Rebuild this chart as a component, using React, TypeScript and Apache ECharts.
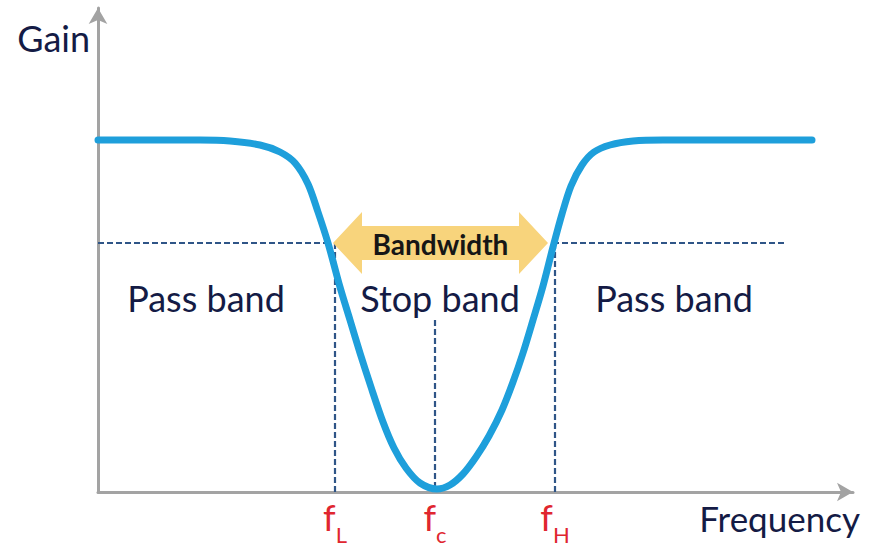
import React, { useEffect, useRef } from "react";
import * as echarts from "echarts";

// Gain response (x: frequency units, y: gain units)
const curveX = [0, 102, 132, 162, 182, 197, 210, 220, 230, 242, 252, 262, 273, 285, 296, 308, 322, 339, 352, 365, 378, 391, 404, 415, 425, 435, 445, 455, 464, 473, 484, 496, 512, 535, 565, 714];
const curveY = [352, 352, 351, 347, 340, 329, 308, 280, 249, 205, 172, 139, 105, 70, 44, 24, 9, 3, 7, 18, 35, 56, 82, 110, 139, 172, 206, 245, 278, 306, 327, 340, 347, 351, 352, 352];

// cutoff markers
const markerSub = ["L", "c", "H"];
const markerX = [237, 337, 457];
const markerTopY = [249, 172, 249];
const halfPowerY = 249;
const dashLeftEnd = 232;
const dashRightStart = 455;
const dashRightEnd = 687;

// bandwidth arrow
const bandwidthFrom = 235;
const bandwidthTo = 450;

// region labels
const bandLabels = ["Pass band", "Stop band", "Pass band"];
const bandLabelX = [108, 342, 576];
const bandLabelY = [194, 194, 194];

const NAVY = "#141b45";
const RED = "#e0262f";
const FONT = "Lato, 'Open Sans', sans-serif";

export default function App() {
  const ref = useRef<HTMLDivElement>(null);
  useEffect(() => {
    if (!ref.current) return;
    const chart = echarts.init(ref.current, undefined, { renderer: "svg" });
    const dashStyle = { color: "#2f5587", width: 2.2, type: [6, 3] as any };
    const markLines: any[] = [
      [{ coord: [0, halfPowerY] }, { coord: [dashLeftEnd, halfPowerY] }],
      [{ coord: [dashRightStart, halfPowerY] }, { coord: [dashRightEnd, halfPowerY] }],
    ];
    markerX.forEach((x, i) => {
      markLines.push([{ coord: [x, markerTopY[i]] }, { coord: [x, 0] }]);
    });
    chart.setOption({
      animation: false,
      grid: { left: 98, right: 20, top: 8, bottom: 62 },
      xAxis: {
        type: "value",
        min: 0,
        max: 755,
        axisLine: {
          show: true,
          symbol: ["none", "arrow"],
          symbolSize: [14, 16],
          lineStyle: { color: "#a3a3a3", width: 3 },
        },
        axisTick: { show: false },
        axisLabel: { show: false },
        splitLine: { show: false },
        name: "Frequency",
        nameLocation: "end",
        nameGap: 7,
        nameTextStyle: {
          fontFamily: FONT,
          fontSize: 35,
          color: NAVY,
          align: "right",
          verticalAlign: "top",
          padding: [8, 0, 0, 0],
        },
      },
      yAxis: {
        type: "value",
        min: 0,
        max: 484,
        axisLine: {
          show: true,
          symbol: ["none", "arrow"],
          symbolSize: [14, 16],
          lineStyle: { color: "#a3a3a3", width: 3 },
        },
        axisTick: { show: false },
        axisLabel: { show: false },
        splitLine: { show: false },
        name: "Gain",
        nameLocation: "end",
        nameGap: -30,
        nameTextStyle: {
          fontFamily: FONT,
          fontSize: 36,
          color: NAVY,
          align: "right",
          verticalAlign: "middle",
          padding: [0, 8, 0, 0],
        },
      },
      series: [
        {
          type: "line",
          data: [],
          silent: true,
          z: 2,
          markLine: {
            silent: true,
            symbol: "none",
            label: { show: false },
            lineStyle: dashStyle,
            data: markLines,
          },
        },
        {
          type: "line",
          data: curveX.map((x, i) => [x, curveY[i]]),
          smooth: 0.3,
          symbol: "none",
          z: 5,
          lineStyle: { color: "#1e9fdb", width: 7, cap: "round", join: "round" },
        },
        {
          type: "custom",
          z: 6,
          data: [[bandwidthFrom, bandwidthTo, halfPowerY]],
          renderItem: (params: any, api: any) => {
            const a = api.coord([api.value(0), api.value(2)]);
            const b = api.coord([api.value(1), api.value(2)]);
            const hl = 29, hh = 31, bh = 17;
            const y = a[1];
            return {
              type: "group",
              children: [
                {
                  type: "polygon",
                  shape: {
                    points: [
                      [a[0], y],
                      [a[0] + hl, y - hh],
                      [a[0] + hl, y - bh],
                      [b[0] - hl, y - bh],
                      [b[0] - hl, y - hh],
                      [b[0], y],
                      [b[0] - hl, y + hh],
                      [b[0] - hl, y + bh],
                      [a[0] + hl, y + bh],
                      [a[0] + hl, y + hh],
                    ],
                  },
                  style: { fill: "#f8d47c" },
                },
                {
                  type: "text",
                  style: {
                    text: "Bandwidth",
                    x: (a[0] + b[0]) / 2,
                    y: y + 1,
                    align: "center",
                    verticalAlign: "middle",
                    fontFamily: FONT,
                    fontWeight: "bold",
                    fontSize: 28,
                    fill: "#161616",
                  },
                },
              ],
            };
          },
        },
        {
          type: "scatter",
          symbolSize: 0,
          silent: true,
          z: 7,
          itemStyle: { opacity: 1 },
          data: bandLabels.map((t, i) => ({ name: t, value: [bandLabelX[i], bandLabelY[i]] })),
          label: {
            show: true,
            position: "inside",
            formatter: (p: any) => p.name,
            fontFamily: FONT,
            fontSize: 36,
            color: NAVY,
          },
        },
        {
          type: "scatter",
          symbolSize: 0,
          silent: true,
          z: 7,
          itemStyle: { opacity: 1 },
          data: markerSub.map((s, i) => ({ name: s, value: [markerX[i], 0] })),
          label: {
            show: true,
            position: "bottom",
            distance: 6,
            formatter: (p: any) => `{f|f}{s|${p.name}}`,
            rich: {
              f: { fontFamily: FONT, fontSize: 36, color: RED, lineHeight: 38 },
              s: { fontFamily: FONT, fontSize: 22, color: RED, verticalAlign: "bottom", lineHeight: 24, padding: [0, 0, -9, 0] },
            },
          },
        },
      ],
    });
    return () => chart.dispose();
  }, []);
  return (
    <div
      ref={ref}
      style={{ position: "fixed", left: 0, top: 0, width: 873, height: 554, background: "#fff" }}
    />
  );
}
